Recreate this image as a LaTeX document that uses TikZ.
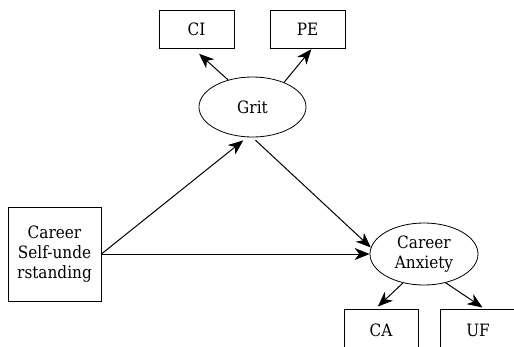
\documentclass[tikz,border=0pt]{standalone}
\usepackage{fontspec}
\setmainfont{DejaVu Serif Condensed}
\usetikzlibrary{arrows.meta,shapes.geometric}

\tikzset{
  obs/.style={draw, line width=0.8pt, minimum width=75pt, minimum height=38pt, inner sep=0pt},
  latent/.style={draw, ellipse, line width=0.8pt, inner sep=0pt},
  path/.style={line width=1pt, -{Stealth[length=15pt,width=12pt,inset=4.5pt]}}
}

\begin{document}
\begin{tikzpicture}[x=1pt, y=-1pt, font=\fontsize{17pt}{20pt}\selectfont]
  \useasboundingbox (0,0) rectangle (514,346);
  \clip (0,0) rectangle (514,346);

  % Mediator and its indicators
  \node[obs] (ci) at (196.5,29) {CI};
  \node[obs] (pe) at (307.5,29) {PE};
  \node[latent, minimum width=107pt, minimum height=60pt] (grit) at (252.5,107) {Grit};

  % Predictor
  \node[obs, minimum width=93pt, minimum height=94pt, align=center] (csu) at (54.5,254)
    {Career\\Self-unde\\rstanding};

  % Outcome and its indicators
  \node[latent, minimum width=108pt, minimum height=62pt, align=center] (anx) at (424,254)
    {Career\\Anxiety};
  \node[obs, minimum width=74pt, minimum height=42pt] (ca) at (381,330) {CA};
  \node[obs, minimum width=76pt, minimum height=42pt] (uf) at (478,330) {UF};

  \draw[path, shorten >=8pt] (grit.132) -- (ci.-100);
  \draw[path, shorten >=1pt] (grit.38) -- (pe.-77);
  \draw[path, shorten >=5pt] (csu.east) -- (grit.-100);
  \draw[path] (csu.east) -- (anx.west);
  \draw[path, shorten <=4pt] (grit.south) -- (anx.173);
  \draw[path, shorten >=3pt] (anx.-126) -- (ca.104);
  \draw[path, shorten >=2pt] (anx.-53) -- (uf.74);
\end{tikzpicture}
\end{document}
